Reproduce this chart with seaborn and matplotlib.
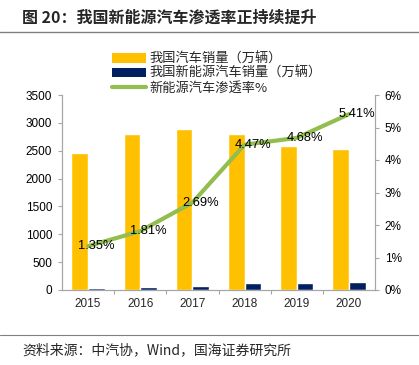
import matplotlib
matplotlib.use("Agg")
import matplotlib.pyplot as plt
from matplotlib.patches import Patch
from matplotlib.lines import Line2D
import seaborn as sns
import pandas as pd

years = ["2015", "2016", "2017", "2018", "2019", "2020"]
car_sales = [2459.8, 2802.8, 2887.9, 2808.1, 2576.9, 2531.1]
nev_sales = [33.1, 50.7, 77.7, 125.6, 120.6, 136.7]
nev_rate = [1.35, 1.81, 2.69, 4.47, 4.68, 5.41]

s_car = "我国汽车销量（万辆）"
s_nev = "我国新能源汽车销量（万辆）"
s_rate = "新能源汽车渗透率%"

yellow = "#FFC000"
navy = "#002060"
green = "#92BD4F"
grey = "#A6A6A6"
cjk = ["Noto Sans CJK SC", "DejaVu Sans"]

sns.set_theme(style="white")
plt.rcParams["font.family"] = ["Liberation Sans", "Noto Sans CJK SC", "DejaVu Sans"]

df = pd.DataFrame({
    "year": years * 2,
    "value": car_sales + nev_sales,
    "series": [s_car] * len(years) + [s_nev] * len(years),
})

fig = plt.figure(figsize=(4.19, 3.65), dpi=100)
ax = fig.add_axes([62 / 419, 1 - 290 / 365, 313 / 419, 195 / 365])

# bars: total car sales and NEV sales side by side
sns.barplot(data=df, x="year", y="value", hue="series", order=years,
            hue_order=[s_car, s_nev], palette=[yellow, navy],
            width=0.64, gap=0.0, ax=ax, legend=False, saturation=1)
ax.set_xlim(-0.5, len(years) - 0.5)
ax.set_ylim(0, 3500)
ax.set_yticks(range(0, 3501, 500))
ax.set_xlabel("")
ax.set_ylabel("")

# penetration rate on the right axis
ax2 = ax.twinx()
rate_df = pd.DataFrame({"x": range(len(years)), "rate": nev_rate})
sns.lineplot(data=rate_df, x="x", y="rate", color=green, linewidth=3,
             ax=ax2, sort=False)
ax2.set_ylim(0, 6)
ax2.set_yticks(range(0, 7))
ax2.set_yticklabels([f"{v}%" for v in range(0, 7)])
ax2.set_ylabel("")
ax2.set_xlim(-0.5, len(years) - 0.5)
for i, v in enumerate(nev_rate):
    ax2.annotate(f"{v:.2f}%", (i, v), xytext=(6, 0), textcoords="offset points",
                 ha="center", va="center", fontsize=9.3, color="black")

for a in (ax, ax2):
    a.spines["top"].set_visible(False)
    for side in ("left", "right", "bottom"):
        a.spines[side].set_color(grey)
        a.spines[side].set_linewidth(0.8)
    a.tick_params(axis="y", labelsize=8.5, colors="black", length=3, width=0.8,
                  color=grey, pad=4)
ax.tick_params(axis="y", left=True, direction="out")
ax2.tick_params(axis="y", right=True, direction="out")
ax.set_xticks(range(len(years)))
ax.set_xticklabels(years)
ax.set_xticks([i + 0.5 for i in range(len(years) - 1)], minor=True)
ax.tick_params(axis="x", which="major", length=0, labelsize=8.5, pad=6)
ax.tick_params(axis="x", which="minor", bottom=True, length=3, width=0.8, color=grey)

handles = [
    Patch(facecolor=yellow, edgecolor="none"),
    Patch(facecolor=navy, edgecolor="none"),
    Line2D([0], [0], color=green, linewidth=3),
]
fig.legend(handles, [s_car, s_nev, s_rate], loc="upper left",
           bbox_to_anchor=(105 / 419, 1 - 46 / 365), frameon=False,
           prop={"family": cjk, "size": 9.5}, handlelength=2.6, handleheight=0.75,
           labelspacing=0.1, handletextpad=0.3, borderpad=0)

fig.text(22 / 419, 1 - 18 / 365, "图 20：我国新能源汽车渗透率正持续提升",
         fontsize=11.5, fontweight="bold", va="center", ha="left", family=cjk)
fig.add_artist(Line2D([0, 1], [1 - 32 / 365] * 2, color="#808080", linewidth=1,
                      transform=fig.transFigure))
fig.add_artist(Line2D([0, 1], [1 - 335 / 365] * 2, color="#808080", linewidth=0.8,
                      transform=fig.transFigure))
fig.text(22 / 419, 1 - 350 / 365, "资料来源：中汽协，Wind，国海证券研究所",
         fontsize=10, va="center", ha="left", family=cjk)

fig.savefig("out.png", dpi=100)
